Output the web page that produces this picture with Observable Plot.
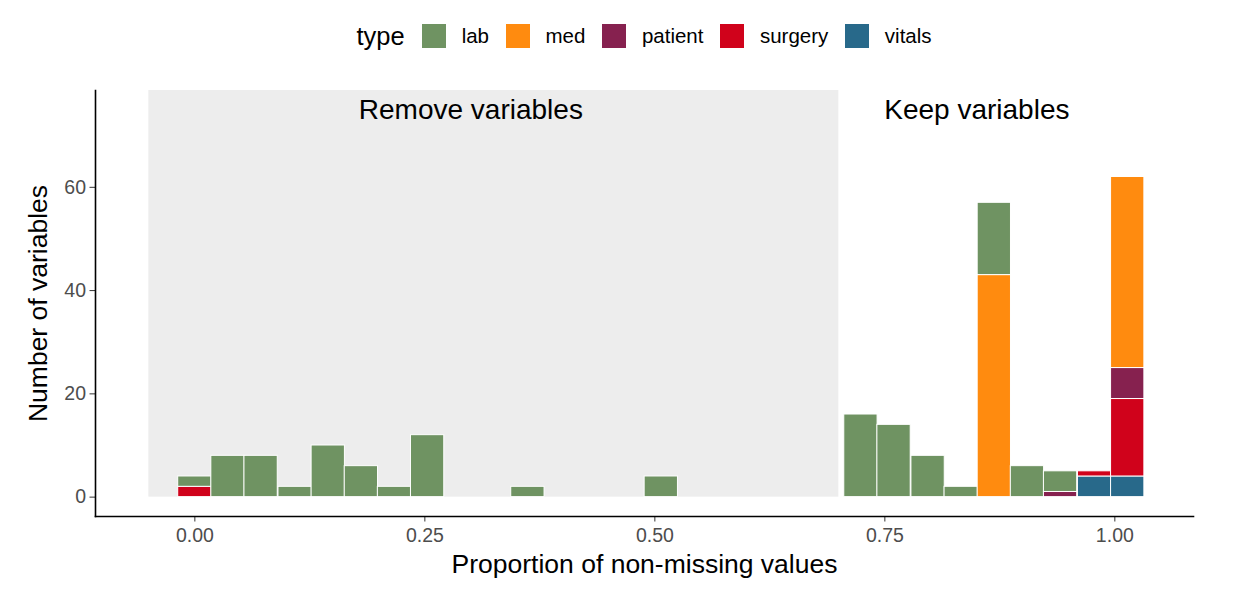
<!DOCTYPE html>
<html>
<head>
<meta charset="utf-8">
<script src="https://cdn.jsdelivr.net/npm/d3@7"></script>
<script src="https://cdn.jsdelivr.net/npm/@observablehq/plot@0.6"></script>
<style>
  html, body { margin: 0; padding: 0; background: #fff; }
  #wrap { position: relative; width: 1246px; height: 596px; font-family: "Liberation Sans", Arial, Helvetica, sans-serif; }
  #legend { position: absolute; top: 24px; left: 0; width: 1246px; height: 24px; padding-left: 42px; box-sizing: border-box; display: flex; align-items: center; justify-content: center; }
  #legend .title { font-size: 25.5px; color: #000; margin-right: 17px; }
  #legend .key { width: 24px; height: 24px; margin-right: 16px; box-sizing: border-box; flex: none; }
  #legend .lab { font-size: 20.5px; color: #000; margin-right: 16.5px; }
  #legend .lab:last-child { margin-right: 0; }
  svg { font-family: "Liberation Sans", Arial, Helvetica, sans-serif; }
</style>
</head>
<body>
<div id="wrap">
  <div id="legend"></div>
  <div id="chart"></div>
</div>
<script>
// ---- data ----
const types = ["lab", "med", "patient", "surgery", "vitals"];
const typeColors = ["#6f9362", "#ff8b0f", "#86214f", "#d0021b", "#28698a"];
const binWidth = 0.0362;
const binCenters = [0.000, 0.036, 0.072, 0.109, 0.145, 0.181, 0.217, 0.253, 0.362, 0.507,
                    0.724, 0.760, 0.797, 0.833, 0.869, 0.905, 0.941, 0.978, 1.014];
const labCounts     = [2, 8, 8, 2, 10, 6, 2, 12, 2, 4, 16, 14, 8, 2, 14, 6, 4, 0, 0];
const medCounts     = [0, 0, 0, 0, 0, 0, 0, 0, 0, 0, 0, 0, 0, 0, 43, 0, 0, 0, 37];
const patientCounts = [0, 0, 0, 0, 0, 0, 0, 0, 0, 0, 0, 0, 0, 0, 0, 0, 1, 0, 6];
const surgeryCounts = [2, 0, 0, 0, 0, 0, 0, 0, 0, 0, 0, 0, 0, 0, 0, 0, 0, 1, 15];
const vitalsCounts  = [0, 0, 0, 0, 0, 0, 0, 0, 0, 0, 0, 0, 0, 0, 0, 0, 0, 4, 4];
const xTicks = [0, 0.25, 0.5, 0.75, 1];
const yTicks = [0, 20, 40, 60];
const regions = [
  {x1: -0.05, x2: 0.70}
];
const annotations = [
  {x: 0.30, y: 75, label: "Remove variables"},
  {x: 0.85, y: 75, label: "Keep variables"}
];
const xLabel = "Proportion of non-missing values";
const yLabel = "Number of variables";

// ---- build stacked table (bottom to top: vitals, surgery, patient, med, lab) ----
const countsByType = {lab: labCounts, med: medCounts, patient: patientCounts, surgery: surgeryCounts, vitals: vitalsCounts};
const stackOrder = ["vitals", "surgery", "patient", "med", "lab"];
const rows = [];
binCenters.forEach((c, i) => {
  let base = 0;
  for (const t of stackOrder) {
    const v = countsByType[t][i];
    if (v > 0) {
      rows.push({x1: c - binWidth / 2, x2: c + binWidth / 2, y1: base, y2: base + v, type: t});
      base += v;
    }
  }
});

// ---- legend ----
const legend = document.getElementById("legend");
const lt = document.createElement("span"); lt.className = "title"; lt.textContent = "type"; legend.appendChild(lt);
types.forEach((t, i) => {
  const k = document.createElement("span"); k.className = "key"; k.style.background = typeColors[i]; legend.appendChild(k);
  const l = document.createElement("span"); l.className = "lab"; l.textContent = t; legend.appendChild(l);
});

// ---- plot ----
const chart = Plot.plot({
  width: 1246,
  height: 596,
  marginLeft: 95,
  marginRight: 53,
  marginTop: 90,
  marginBottom: 80,
  x: {domain: [-0.108, 1.0855]},
  y: {domain: [-3.75, 78.75]},
  color: {domain: types, range: typeColors},
  marks: [
    Plot.rect(regions, {x1: "x1", x2: "x2", y1: 0, y2: 78.75, fill: "#ededed"}),
    Plot.rect(rows, {x1: "x1", x2: "x2", y1: "y1", y2: "y2", fill: "type", stroke: "white", strokeWidth: 1}),
    Plot.text(annotations, {x: "x", y: "y", text: "label", fontSize: 28, fill: "#000"}),
    Plot.axisX({ticks: xTicks, tickFormat: d3.format(".2f"), tickSize: 5.5, tickPadding: 6, fontSize: 19.5, stroke: "#333", fill: "#4d4d4d", label: null}),
    Plot.axisY({ticks: yTicks, tickSize: 5.5, tickPadding: 4, fontSize: 19.5, stroke: "#333", fill: "#4d4d4d", label: null}),
    Plot.frame({anchor: "left", stroke: "#000", strokeWidth: 1.6}),
    Plot.frame({anchor: "bottom", stroke: "#000", strokeWidth: 1.6}),
    Plot.text([xLabel], {frameAnchor: "bottom", dy: 48.5, lineAnchor: "middle", textAnchor: "middle", fontSize: 26.5, fill: "#000"}),
    Plot.text([yLabel], {frameAnchor: "left", dx: -56.5, rotate: -90, lineAnchor: "middle", textAnchor: "middle", fontSize: 26.5, fill: "#000"})
  ]
});
document.getElementById("chart").appendChild(chart);
</script>
</body>
</html>
